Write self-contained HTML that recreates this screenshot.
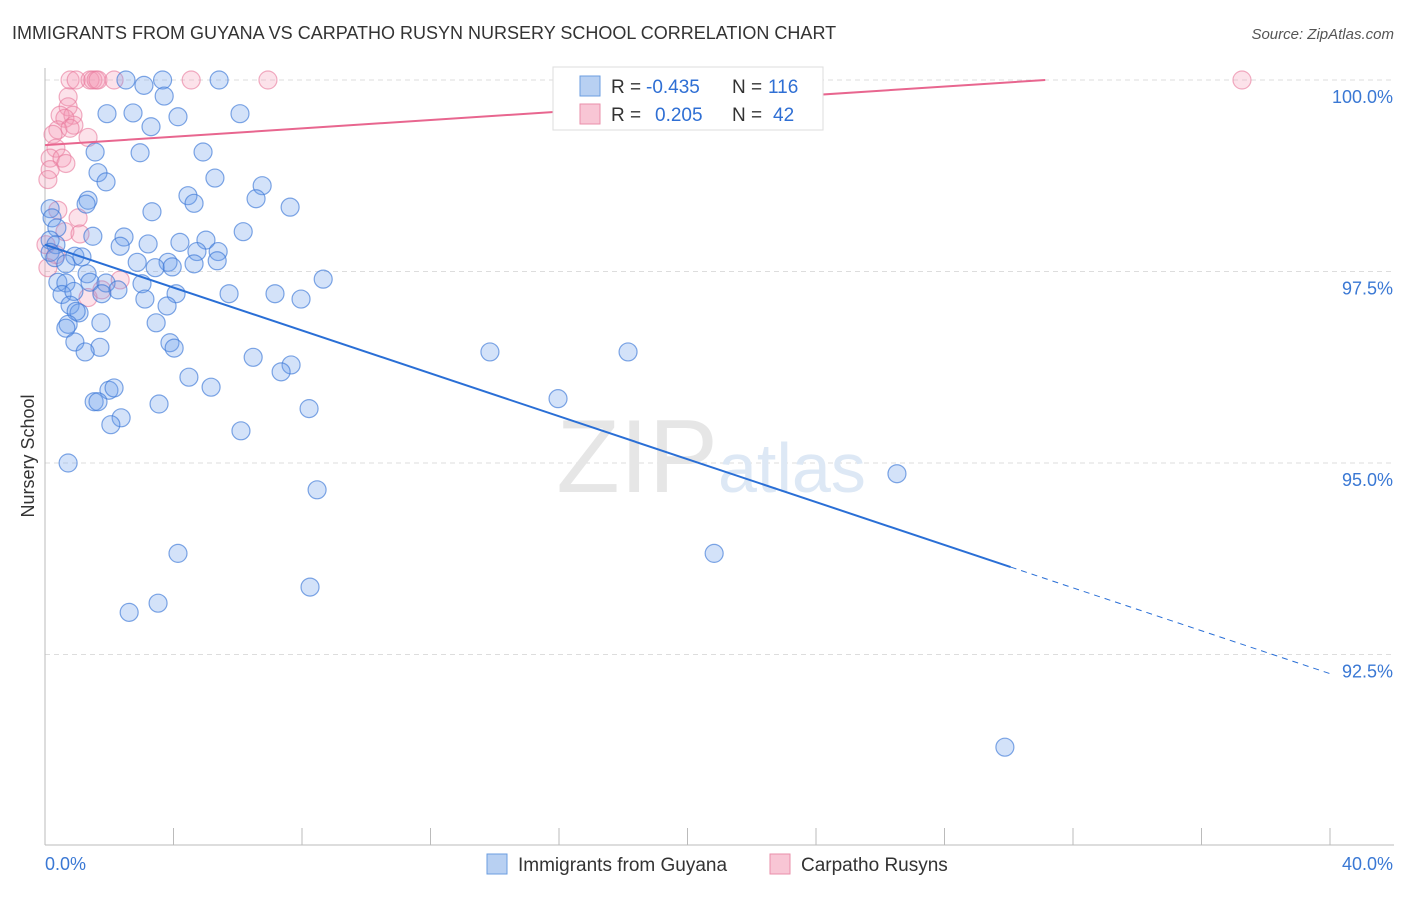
<!DOCTYPE html>
<html><head><meta charset="utf-8"><style>
body{margin:0;background:#fff;font-family:"Liberation Sans",sans-serif;}
svg text{font-family:"Liberation Sans",sans-serif;}
</style></head><body>
<svg id="chart" width="1406" height="892" xmlns="http://www.w3.org/2000/svg">
<text x="12" y="39" font-size="18" fill="#333">IMMIGRANTS FROM GUYANA VS CARPATHO RUSYN NURSERY SCHOOL CORRELATION CHART</text>
<text x="1394" y="39" font-size="15" fill="#555" text-anchor="end" font-style="italic">Source: ZipAtlas.com</text>
<text x="34" y="456" font-size="18" fill="#333" text-anchor="middle" transform="rotate(-90 34 456)">Nursery School</text>
<g id="grid"></g>
<text x="718" y="492" font-size="104" fill="#e6e6e6" text-anchor="end" font-family="Liberation Serif">ZIP</text>
<text x="718" y="492" font-size="70" fill="#dde8f5">atlas</text>
<g id="marks"></g>
<g>
<rect x="553" y="67" width="270" height="63" fill="#fff" stroke="#ddd"/>
<rect x="580" y="76" width="20" height="20" fill="#b8d0f2" stroke="#6b9ee0"/>
<rect x="580" y="104" width="20" height="20" fill="#f8c6d5" stroke="#ea8faa"/>
<text x="611" y="93" font-size="19" fill="#333">R =</text>
<text x="646" y="93" font-size="19" fill="#2f6fd4">-0.435</text>
<text x="732" y="93" font-size="19" fill="#333">N =</text>
<text x="768" y="93" font-size="19" fill="#2f6fd4">116</text>
<text x="611" y="121" font-size="19" fill="#333">R =</text>
<text x="655" y="121" font-size="19" fill="#2f6fd4">0.205</text>
<text x="732" y="121" font-size="19" fill="#333">N =</text>
<text x="773" y="121" font-size="19" fill="#2f6fd4">42</text>
</g>
<g>
<rect x="487" y="854" width="20" height="20" fill="#b8d0f2" stroke="#6b9ee0"/>
<text x="518" y="871" font-size="19" fill="#333">Immigrants from Guyana</text>
<rect x="770" y="854" width="20" height="20" fill="#f8c6d5" stroke="#ea8faa"/>
<text x="801" y="871" font-size="19" fill="#333">Carpatho Rusyns</text>
</g>
</svg>
<script>
const yTicks=[100,97.5,95,92.5];
const yTickLabels=["100.0%","97.5%","95.0%","92.5%"];
const xLabels=["0.0%","40.0%"];
const blueX=[2.52,3.66,5.42,3.08,3.71,1.93,2.74,4.14,6.07,3.3,1.56,2.96,4.92,1.65,1.9,5.29,6.76,1.34,4.45,1.28,4.64,6.57,7.63,3.33,0.16,0.22,0.37,6.17,1.49,2.46,4.2,5.01,3.21,2.34,0.16,0.34,5.39,4.73,3.83,2.87,3.43,3.96,4.64,5.36,0.16,0.31,0.93,1.15,0.65,1.31,8.66,0.4,0.65,1.4,1.9,2.27,3.02,0.53,0.9,1.77,4.08,5.73,7.16,7.97,3.11,3.8,0.78,1.06,0.97,1.74,3.46,0.72,0.65,0.93,1.71,1.25,3.89,4.02,13.85,18.15,6.48,7.66,7.35,4.48,5.17,1.99,2.15,1.53,1.65,3.55,15.97,8.22,2.37,2.05,6.1,0.72,26.52,8.47,4.14,20.83,8.25,3.52,2.62,29.88];
const blueY=[100,100,100,99.93,99.79,99.56,99.57,99.52,99.56,99.39,99.06,99.05,99.06,98.79,98.67,98.72,98.62,98.43,98.49,98.38,98.39,98.45,98.34,98.28,98.32,98.2,98.07,98.02,97.96,97.95,97.88,97.91,97.86,97.83,97.91,97.85,97.76,97.76,97.62,97.62,97.55,97.56,97.6,97.64,97.75,97.68,97.7,97.69,97.6,97.47,97.4,97.36,97.35,97.36,97.35,97.26,97.34,97.2,97.24,97.21,97.21,97.21,97.21,97.14,97.14,97.05,97.06,96.96,96.98,96.83,96.83,96.81,96.76,96.58,96.51,96.45,96.57,96.5,96.45,96.45,96.38,96.28,96.19,96.12,95.99,95.95,95.98,95.8,95.8,95.77,95.84,95.71,95.59,95.5,95.42,95,94.86,94.65,93.82,93.82,93.38,93.17,93.05,91.29];
const pinkX=[0.78,0.97,1.4,1.49,1.59,1.65,2.15,4.55,6.94,37.26,0.72,0.72,0.47,0.87,0.62,0.9,0.4,0.78,0.25,1.34,0.34,0.16,0.53,0.65,0.16,0.09,0.4,0.62,1.03,0.34,0.09,1.34,2.34,1.77,1.09,0.03];
const pinkY=[100,100,100,100,100,100,100,100,100,100,99.78,99.65,99.54,99.54,99.5,99.41,99.35,99.37,99.29,99.25,99.11,98.98,98.98,98.91,98.83,98.7,98.3,98.02,98.2,97.72,97.55,97.16,97.39,97.26,97.99,97.85];
const blueFit=[97.85,-0.140];
const pinkFit=[99.15,0.0273];
const xs=p=>45+p*32.125;
const ys=v=>80+(100-v)*76.6;
const NS="http://www.w3.org/2000/svg";
const grid=document.getElementById('grid'),marks=document.getElementById('marks');
function mk(tag,attrs,parent){const e=document.createElementNS(NS,tag);for(const k in attrs)e.setAttribute(k,attrs[k]);parent.appendChild(e);return e;}
yTicks.forEach((t,i)=>{
 const l=mk('line',{x1:45,x2:1394,y1:ys(t),y2:ys(t),stroke:'#ddd','stroke-dasharray':'5,4'},grid);
 
 
 const tx=mk('text',{x:1393,y:ys(t)+23,'font-size':18,fill:'#3a78d4','text-anchor':'end'},grid);
 tx.textContent=yTickLabels[i];
 
 
});
const ax=mk('line',{x1:45,x2:45,y1:68,y2:845,stroke:'#bbb'},grid);


const bx=mk('line',{x1:45,x2:1394,y1:845,y2:845,stroke:'#bbb'},grid);


for(let i=0;i<=10;i++){const t=mk('line',{x1:xs(i*4),x2:xs(i*4),y1:828,y2:845,stroke:'#bbb'},grid);
 
 }
const xl0=mk('text',{x:45,y:870,'font-size':18,fill:'#3a78d4'},grid);xl0.textContent=xLabels[0];


const xl1=mk('text',{x:1393,y:870,'font-size':18,fill:'#3a78d4','text-anchor':'end'},grid);xl1.textContent=xLabels[1];


pinkX.forEach((x,i)=>{const c=mk('circle',{cx:xs(x),cy:ys(pinkY[i]),r:9,fill:'rgba(244,150,180,0.28)',stroke:'rgba(232,120,155,0.6)','stroke-width':1.2},marks);
 
 });
blueX.forEach((x,i)=>{const c=mk('circle',{cx:xs(x),cy:ys(blueY[i]),r:9,fill:'rgba(110,160,235,0.3)',stroke:'rgba(60,120,215,0.65)','stroke-width':1.2},marks);
 
 });
const bEnd=30.06;
const bl=mk('line',{x1:xs(0),y1:ys(blueFit[0]),x2:xs(bEnd),y2:ys(blueFit[0]+blueFit[1]*bEnd),stroke:'#2a6fd6','stroke-width':2},marks);


const bd=mk('line',{x1:xs(bEnd),y1:ys(blueFit[0]+blueFit[1]*bEnd),x2:xs(40),y2:ys(blueFit[0]+blueFit[1]*40),stroke:'#2a6fd6','stroke-width':1,'stroke-dasharray':'6,5'},marks);


const pEnd=(100-pinkFit[0])/pinkFit[1];
const pl=mk('line',{x1:xs(0),y1:ys(pinkFit[0]),x2:xs(pEnd),y2:ys(100),stroke:'#e8668f','stroke-width':2},marks);


</script>
</body></html>
